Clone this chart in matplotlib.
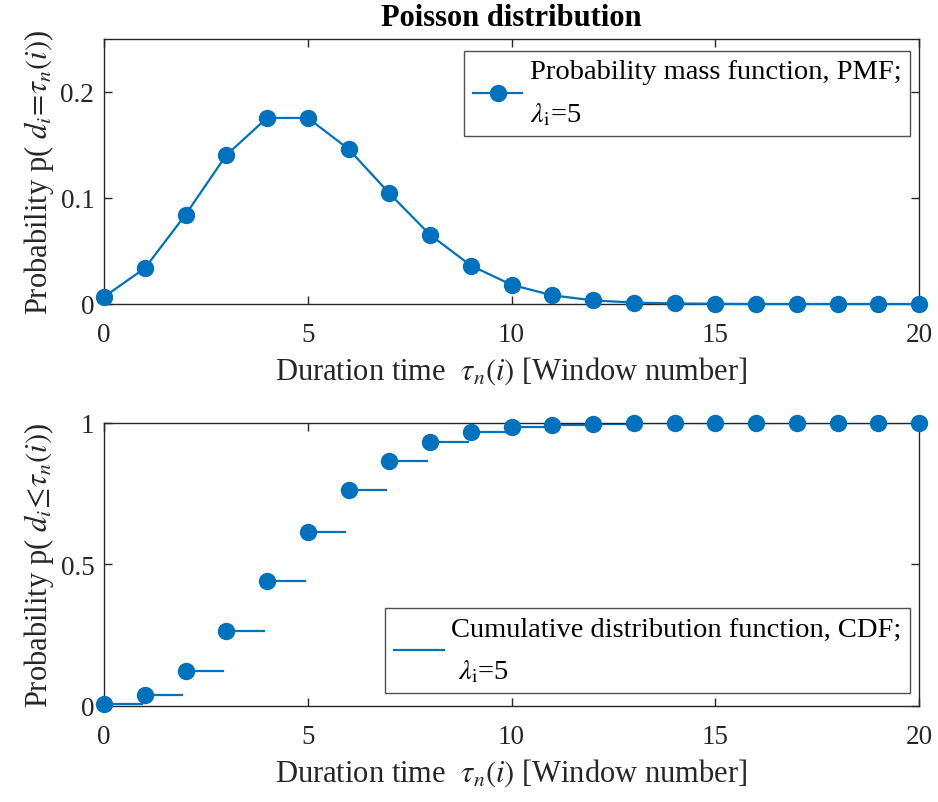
import numpy as np
import matplotlib
matplotlib.use('Agg')
import matplotlib.pyplot as plt

plt.rcParams['font.family'] = ['Liberation Serif', 'DejaVu Serif']
plt.rcParams['mathtext.fontset'] = 'stix'

# Poisson, lambda = 5, windows 0..20
windows = list(range(21))
pmf = [0.0067, 0.0337, 0.0842, 0.1404, 0.1755, 0.1755, 0.1462, 0.1044, 0.0653,
       0.0363, 0.0181, 0.0082, 0.0034, 0.0013, 0.0005, 0.0002, 0.0000, 0.0000,
       0.0000, 0.0000, 0.0000]
cdf = [0.0067, 0.0404, 0.1247, 0.2650, 0.4405, 0.6160, 0.7622, 0.8666, 0.9319,
       0.9682, 0.9863, 0.9945, 0.9980, 0.9993, 0.9998, 0.9999, 1.0000, 1.0000,
       1.0000, 1.0000, 1.0000]
xticks = [0, 5, 10, 15, 20]
pmf_yticks = [0, 0.1, 0.2]
pmf_yticklabels = ['0', '0.1', '0.2']
cdf_yticks = [0, 0.5, 1]
cdf_yticklabels = ['0', '0.5', '1']

blue = '#0072BD'
axcol = '#262626'
fs_tick = 19.5
fs_label = 22
fs_leg = 20.5
ms = 11.5

fig = plt.figure(figsize=(9.38, 8.03), dpi=100)
ax1 = fig.add_axes([0.1109, 0.6202, 0.8689, 0.3300])
ax2 = fig.add_axes([0.1109, 0.1196, 0.8689, 0.3524])


def style_axes(ax):
    for sp in ax.spines.values():
        sp.set_color(axcol)
        sp.set_linewidth(1.0)
    ax.tick_params(direction='in', top=True, right=True, length=6,
                   width=1.0, color=axcol, labelsize=fs_tick,
                   labelcolor='#262626')
    ax.tick_params(axis='x', pad=13)
    ax.tick_params(axis='y', pad=7)
    ax.set_xlim(0, 20)
    ax.set_xticks(xticks)
    ax.set_xticklabels([str(t) for t in xticks])


def style_legend(leg):
    leg.get_frame().set_linewidth(1.0)
    for t in leg.get_texts():
        t.set_linespacing(1.8)


# PMF
ax1.plot(windows, pmf, '-o', color=blue, lw=1.6, ms=ms, clip_on=False,
         zorder=3,
         label='Probability mass function, PMF;\n$\\lambda_{\\mathrm{i}}$=5')
style_axes(ax1)
ax1.set_ylim(0, 0.25)
ax1.set_yticks(pmf_yticks)
ax1.set_yticklabels(pmf_yticklabels)
ax1.set_xlabel(r'Duration time  $\tau_n(i)$ [Window number]', fontsize=fs_label,
               color='#262626', labelpad=5)
ax1.set_ylabel(r'Probability p( $d_i\!=\!\tau_n(i)$)', fontsize=fs_label,
               color='#262626', labelpad=3)
ax1.set_title('Poisson distribution', fontsize=fs_label, fontweight='bold',
              pad=10)
leg1 = ax1.legend(loc='upper right', bbox_to_anchor=(0.9886, 0.955),
                  fontsize=fs_leg, frameon=True, fancybox=False,
                  edgecolor=axcol, handlelength=1.75, borderpad=0.3,
                  handletextpad=0.25, borderaxespad=0)
style_legend(leg1)

# CDF: a flat step from each window, marker at its start
step_w = 0.92
seg_x, seg_y = [], []
for k, c in zip(windows, cdf):
    seg_x += [k, k + step_w, np.nan]
    seg_y += [c, c, np.nan]
ax2.plot(seg_x, seg_y, '-', color=blue, lw=1.6, zorder=2,
         label='Cumulative distribution function, CDF;\n $\\lambda_{\\mathrm{i}}$=5')
ax2.plot(windows, cdf, 'o', color=blue, ms=ms, clip_on=False, zorder=3)
style_axes(ax2)
ax2.set_ylim(0, 1)
ax2.set_yticks(cdf_yticks)
ax2.set_yticklabels(cdf_yticklabels)
ax2.set_xlabel(r'Duration time  $\tau_n(i)$ [Window number]', fontsize=fs_label,
               color='#262626', labelpad=5)
ax2.set_ylabel(r'Probability p( $d_i\!\leq\!\tau_n(i)$)', fontsize=fs_label,
               color='#262626', labelpad=3)
leg2 = ax2.legend(loc='lower right', bbox_to_anchor=(0.9886, 0.045),
                  fontsize=fs_leg, frameon=True, fancybox=False,
                  edgecolor=axcol, handlelength=1.75, borderpad=0.3,
                  handletextpad=0.25, borderaxespad=0)
style_legend(leg2)

fig.savefig('out.png', dpi=100)
